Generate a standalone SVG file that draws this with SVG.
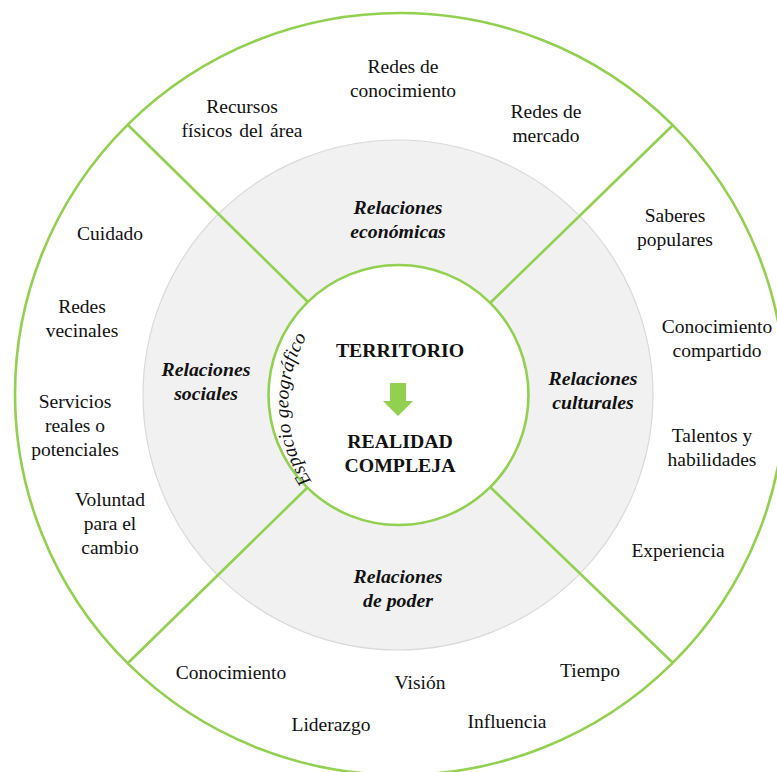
<svg xmlns="http://www.w3.org/2000/svg" width="777" height="772" viewBox="0 0 777 772">
<defs>
<style>
.t{font-family:"Liberation Serif","Times New Roman",serif;font-size:19.5px;fill:#111;text-anchor:middle}
.bi{font-weight:bold;font-style:italic;font-size:19.8px}
.b{font-weight:bold;font-size:19.8px}
.g{fill:none;stroke:#92D050;stroke-width:2.6}
</style>
<path id="arcText" d="M 319.6 491.8 A 136 136 0 0 1 313.8 325.6" fill="none"/>
</defs>
<rect width="777" height="772" fill="#fff"/>
<g id="outer-ring">
<ellipse cx="400" cy="394" rx="385" ry="381" fill="#fff" stroke="#92D050" stroke-width="2.6"/>
</g>
<g id="middle-ring">
<circle cx="398" cy="395" r="255" fill="#F1F1F1" stroke="#D9D9D9" stroke-width="1.2"/>
</g>
<g id="connectors">
<line class="g" x1="128" y1="125" x2="310" y2="304"/>
<line class="g" x1="673" y1="125" x2="488" y2="305"/>
<line class="g" x1="128" y1="663" x2="310" y2="485"/>
<line class="g" x1="673" y1="663" x2="488" y2="485"/>
</g>
<g id="core">
<circle cx="398.5" cy="395" r="130" fill="#fff" stroke="#92D050" stroke-width="2.6"/>
<text class="t b" x="400" y="357">TERRITORIO</text>
<polygon points="390,383 406,383 406,401 413,401 398,416 383,401 390,401" fill="#92D050"/>
<text class="t b" x="400" y="448">REALIDAD</text>
<text class="t b" x="400" y="472">COMPLEJA</text>
<text class="t" style="font-style:italic"><textPath href="#arcText" startOffset="50%">Espacio geográfico</textPath></text>
</g>
<g id="rel-economicas">
<text class="t bi" x="398" y="214">Relaciones</text>
<text class="t bi" x="398" y="238">económicas</text>
</g>
<g id="rel-sociales">
<text class="t bi" x="206" y="376">Relaciones</text>
<text class="t bi" x="206" y="400">sociales</text>
</g>
<g id="rel-culturales">
<text class="t bi" x="593" y="385">Relaciones</text>
<text class="t bi" x="593" y="409">culturales</text>
</g>
<g id="rel-poder">
<text class="t bi" x="398" y="583">Relaciones</text>
<text class="t bi" x="398" y="607">de poder</text>
</g>
<g id="item-redes-conocimiento">
<text class="t" x="403" y="73">Redes de</text>
<text class="t" x="403" y="97">conocimiento</text>
</g>
<g id="item-recursos">
<text class="t" x="242" y="113">Recursos</text>
<text class="t" x="242" y="137" word-spacing="2">físicos del área</text>
</g>
<g id="item-redes-mercado">
<text class="t" x="546" y="118">Redes de</text>
<text class="t" x="546" y="142">mercado</text>
</g>
<g id="item-cuidado">
<text class="t" x="110" y="240">Cuidado</text>
</g>
<g id="item-redes-vecinales">
<text class="t" x="82" y="313">Redes</text>
<text class="t" x="82" y="337">vecinales</text>
</g>
<g id="item-servicios">
<text class="t" x="75" y="408">Servicios</text>
<text class="t" x="75" y="432">reales o</text>
<text class="t" x="75" y="456">potenciales</text>
</g>
<g id="item-voluntad">
<text class="t" x="110" y="506">Voluntad</text>
<text class="t" x="110" y="530">para el</text>
<text class="t" x="110" y="554">cambio</text>
</g>
<g id="item-saberes">
<text class="t" x="675" y="222">Saberes</text>
<text class="t" x="675" y="246">populares</text>
</g>
<g id="item-conocimiento-compartido">
<text class="t" x="717" y="333">Conocimiento</text>
<text class="t" x="717" y="357">compartido</text>
</g>
<g id="item-talentos">
<text class="t" x="712" y="442">Talentos y</text>
<text class="t" x="712" y="466">habilidades</text>
</g>
<g id="item-experiencia">
<text class="t" x="678" y="557">Experiencia</text>
</g>
<g id="item-conocimiento">
<text class="t" x="231" y="679">Conocimiento</text>
</g>
<g id="item-liderazgo">
<text class="t" x="331" y="731">Liderazgo</text>
</g>
<g id="item-vision">
<text class="t" x="420" y="689">Visión</text>
</g>
<g id="item-influencia">
<text class="t" x="507" y="728">Influencia</text>
</g>
<g id="item-tiempo">
<text class="t" x="590" y="677">Tiempo</text>
</g>
</svg>
